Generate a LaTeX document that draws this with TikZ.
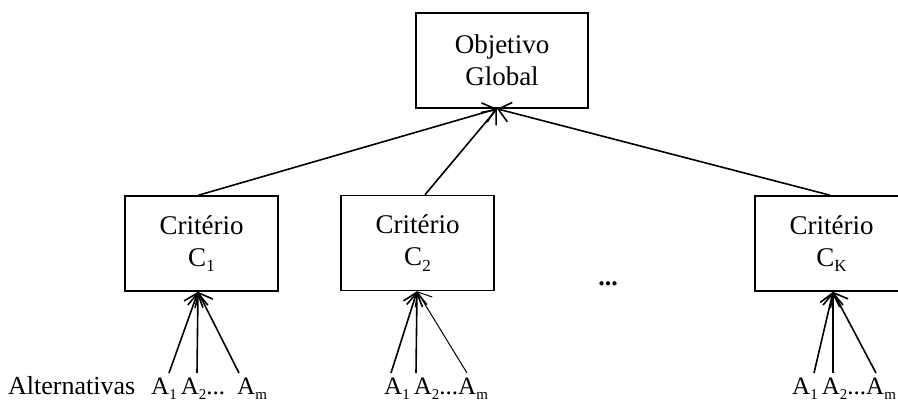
\documentclass[tikz,border=0pt]{standalone}
\usepackage{fontspec}
\setmainfont{Liberation Serif}
\usetikzlibrary{arrows.meta}
\newcommand\sbsmall[1]{\raisebox{-0.2em}{\fontsize{15}{15}\selectfont #1}}
\newcommand\sbbox[1]{\raisebox{-0.2em}{\fontsize{17}{17}\selectfont #1}}
\begin{document}
\begin{tikzpicture}[x=1pt,y=-1pt,
  box/.style={draw,line width=1.6pt,minimum width=153pt,minimum height=95pt,inner sep=0pt,align=center,font=\fontsize{27}{32}\selectfont},
  arr/.style={line width=1.6pt,-{Straight Barb[length=12pt,width=20pt]}},
  lbl/.style={anchor=base west,inner sep=0pt,font=\fontsize{25}{30}\selectfont}]
\useasboundingbox (0,0) rectangle (898,401);
\node[box,minimum width=172pt] (top) at (502,60.5) {Objetivo\\Global};
\node[box] (c1) at (201.5,243.5) {Critério\\C\sbbox{1}};
\node[box] (c2) at (417.5,243) {Critério\\C\sbbox{2}};
\node[box] (ck) at (831.5,243.5) {Critério\\C\sbbox{K}};
\node[anchor=base,inner sep=0pt,font=\fontsize{26}{30}\selectfont\bfseries] (dots) at (608,286) {...};
\draw[arr] ([xshift=-3pt]c1.north) -- ([xshift=-5pt]top.south);
\draw[arr] ([xshift=7.5pt]c2.north) -- ([xshift=-5pt]top.south);
\draw[arr] ([xshift=-1.5pt]ck.north) -- ([xshift=-5pt]top.south);
\node[lbl,font=\fontsize{26}{30}\selectfont] (alt) at (8,394) {Alternativas};
\node[lbl] (l1) at (151,394) {A\sbsmall{1}\,A\sbsmall{2}...\hspace{12pt}A\sbsmall{m}};
\node[lbl] (l2) at (384,394) {A\sbsmall{1}\,A\sbsmall{2}...A\sbsmall{m}};
\node[lbl] (lk) at (792,394) {A\sbsmall{1}\,A\sbsmall{2}...A\sbsmall{m}};
\coordinate (a11) at (169,373);
\coordinate (a12) at (197,373);
\coordinate (a1m) at (239,373);
\coordinate (a21) at (391,373);
\coordinate (a22) at (416,373);
\coordinate (a2m) at (467,373);
\coordinate (ak1) at (814,373);
\coordinate (ak2) at (833,373);
\coordinate (akm) at (876,373);
\draw[arr] (a11) -- ([xshift=-3.5pt]c1.south);
\draw[arr] (a12) -- ([xshift=-3.5pt]c1.south);
\draw[arr] (a1m) -- ([xshift=-3.5pt]c1.south);
\draw[arr] (a21) -- ([xshift=-0.5pt]c2.south);
\draw[arr] (a22) -- ([xshift=-0.5pt]c2.south);
\draw[arr,line width=1pt] (a2m) -- ([xshift=-0.5pt]c2.south);
\draw[arr] (ak1) -- ([xshift=1.5pt]ck.south);
\draw[arr] (ak2) -- ([xshift=1.5pt]ck.south);
\draw[arr] (akm) -- ([xshift=1.5pt]ck.south);
\end{tikzpicture}
\end{document}
